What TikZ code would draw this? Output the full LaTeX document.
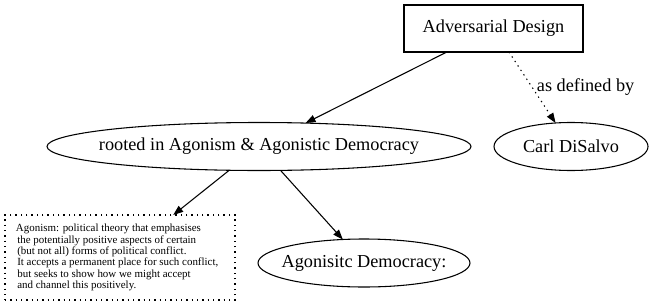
\documentclass[tikz,border=0pt]{standalone}
\usepackage{fontspec}
\setmainfont{Liberation Serif}
\usetikzlibrary{shapes.geometric,arrows.meta}
\begin{document}
\begin{tikzpicture}[x=0.75pt,y=-0.75pt,
  every node/.style={inner sep=0pt,outer sep=0pt,font=\fontsize{13.7}{16}\selectfont},
  every label/.style={inner sep=0pt,font=\fontsize{13.7}{16}\selectfont},
  boxnode/.style={draw,line width=0.9pt,rectangle,minimum width=179*0.75pt,minimum height=47*0.75pt},
  % ellipse of fixed size, its text set as a centred label
  ellnode/.style={draw,line width=0.8pt,ellipse,minimum height=48*0.75pt,label=center:{#1}},
  notebox/.style={draw,line width=0.8pt,rectangle,dash pattern=on 1pt off 3pt,minimum width=230*0.75pt,minimum height=85*0.75pt},
  edge/.style={-{Triangle[length=7.5pt,width=5.5pt]},line width=0.8pt},
  dotedge/.style={edge,dash pattern=on 1pt off 3pt}
]
\useasboundingbox (0,0) rectangle (652,307);

\node[boxnode] (ad) at (493.5,28.5) {Adversarial Design};
\node[ellnode={rooted in Agonism \& Agonistic Democracy},minimum width=424*0.75pt] (root) at (259,146.5) {};
\node[ellnode={Carl DiSalvo},minimum width=154*0.75pt] (carl) at (571,146.5) {};
\node[notebox] (ago) at (120,257.5) {};
\node[anchor=west,align=left,font=\fontsize{8.2}{8.55}\selectfont] (agotext) at (16,257.5)
  {Agonism: political theory that emphasises\\
   \hspace{1pt}the potentially positive aspects of certain\\
   \hspace{1pt}(but not all) forms of political conflict.\\
   \hspace{1pt}It accepts a permanent place for such conflict,\\
   \hspace{1pt}but seeks to show how we might accept\\
   \hspace{1pt}and channel this positively.};
\node[ellnode={Agonisitc Democracy:},minimum width=212*0.75pt] (dem) at (364,263) {};

\draw[edge] (ad) -- (root);
\draw[dotedge] (ad) -- (carl) node[pos=0.5,anchor=west,xshift=3.5pt] (lbl) {as defined by};
\draw[edge] (root) -- (ago);
\draw[edge] (root) -- (dem);
\end{tikzpicture}
\end{document}
